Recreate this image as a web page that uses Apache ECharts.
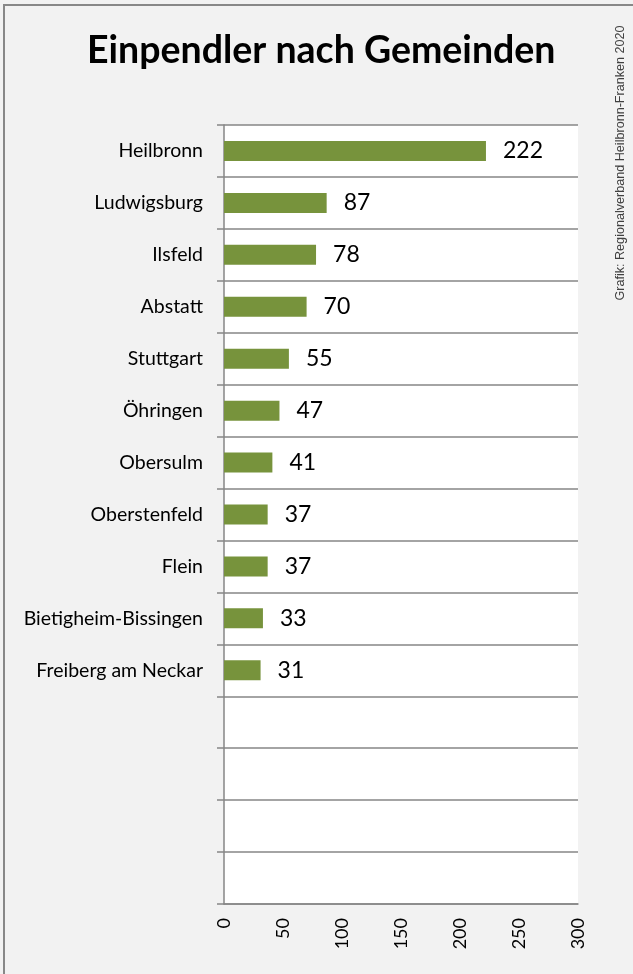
<!DOCTYPE html>
<html>
<head>
<meta charset="utf-8">
<script src="https://cdn.jsdelivr.net/npm/echarts@6/dist/echarts.min.js"></script>
<style>
html,body{margin:0;padding:0;background:#f2f2f2;}
#chart{width:633px;height:974px;}
</style>
</head>
<body>
<div id="chart"></div>
<script>
var titleText = 'Einpendler nach Gemeinden';
var sourceText = 'Grafik: Regionalverband Heilbronn-Franken 2020';
var categories = ['Heilbronn','Ludwigsburg','Ilsfeld','Abstatt','Stuttgart','Öhringen','Obersulm','Oberstenfeld','Flein','Bietigheim-Bissingen','Freiberg am Neckar','','','',''];
var values = [222,87,78,70,55,47,41,37,37,33,31,null,null,null,null];
var xMin = 0, xMax = 300, xInterval = 50;

var FONT = 'Lato, "Open Sans", sans-serif';
var chart = echarts.init(document.getElementById('chart'), null, {renderer:'canvas'});
chart.setOption({
  backgroundColor:'#f2f2f2',
  animation:false,
  title:{
    text:titleText, left:82, top:27,
    textStyle:{fontFamily:FONT, fontWeight:'bold', fontSize:37.5, color:'#000'}
  },
  graphic:[
    {type:'rect', shape:{x:4,y:5,width:800,height:1200}, style:{fill:null, stroke:'#888888', lineWidth:2}, silent:true},
    {type:'text', x:621, y:163, rotation:Math.PI/2,
     style:{text:sourceText, fontFamily:'"Liberation Sans Narrow", "Liberation Sans", Arial, sans-serif', fontSize:12.6, fill:'#404040', align:'center', verticalAlign:'middle'}}
  ],
  grid:{left:224, right:55, top:125, bottom:70, show:true, backgroundColor:'#ffffff', borderWidth:0},
  xAxis:{
    type:'value', min:xMin, max:xMax, interval:xInterval,
    axisLine:{show:true, lineStyle:{color:'#868686', width:1.5}},
    axisTick:{show:false},
    splitLine:{show:false},
    axisLabel:{rotate:90, margin:14, fontFamily:FONT, fontSize:18, color:'#000'}
  },
  yAxis:{
    type:'category', data:categories, inverse:true,
    axisLine:{show:true, lineStyle:{color:'#868686', width:1.5}},
    axisTick:{show:true, length:7, lineStyle:{color:'#868686', width:1.5}},
    splitLine:{show:true, lineStyle:{color:'#868686', width:1.5}},
    axisLabel:{margin:21, fontFamily:FONT, fontSize:19.5, color:'#000'}
  },
  series:[{
    type:'bar', data:values, barWidth:20,
    itemStyle:{color:'#77933c'},
    label:{show:true, position:'right', distance:17, fontFamily:FONT, fontSize:23, color:'#000'}
  }]
});
</script>
</body>
</html>
